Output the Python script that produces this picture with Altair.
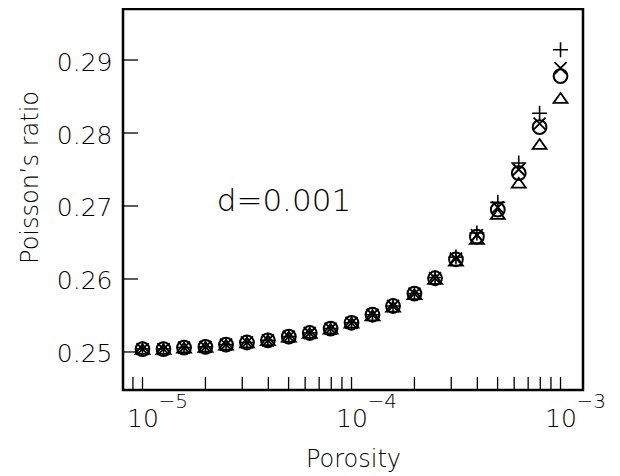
import altair as alt
import pandas as pd

# ---- data ----
porosity = [1.0e-5, 1.26e-5, 1.58e-5, 2.0e-5, 2.51e-5, 3.16e-5, 3.98e-5, 5.01e-5,
            6.31e-5, 7.94e-5, 1.0e-4, 1.26e-4, 1.58e-4, 2.0e-4, 2.51e-4, 3.16e-4,
            3.98e-4, 5.01e-4, 6.31e-4, 7.94e-4, 1.0e-3]
nu_plus = [0.2504, 0.2504, 0.2506, 0.2507, 0.2510, 0.2513, 0.2516, 0.2521, 0.2526,
           0.2532, 0.2540, 0.2551, 0.2563, 0.2580, 0.2602, 0.2630, 0.2663, 0.2705,
           0.2759, 0.2827, 0.2914]
nu_cross = [0.2504, 0.2504, 0.2506, 0.2507, 0.2510, 0.2513, 0.2516, 0.2521, 0.2526,
            0.2532, 0.2540, 0.2551, 0.2563, 0.2580, 0.2601, 0.2628, 0.2660, 0.2698,
            0.2750, 0.2813, 0.2889]
nu_circle = [0.2504, 0.2504, 0.2506, 0.2507, 0.2510, 0.2513, 0.2516, 0.2521, 0.2526,
             0.2532, 0.2540, 0.2551, 0.2563, 0.2580, 0.2601, 0.2627, 0.2658, 0.2695,
             0.2745, 0.2808, 0.2878]
nu_triangle = [0.2504, 0.2504, 0.2506, 0.2507, 0.2510, 0.2513, 0.2516, 0.2521, 0.2526,
               0.2532, 0.2540, 0.2550, 0.2562, 0.2579, 0.2600, 0.2625, 0.2655, 0.2689,
               0.2732, 0.2785, 0.2848]

x_major = [1e-5, 1e-4, 1e-3]
x_exponents = ["\u22125", "\u22124", "\u22123"]
x_ticks = [9e-6, 1e-5, 2e-5, 3e-5, 4e-5, 5e-5, 6e-5, 7e-5, 8e-5, 9e-5,
           1e-4, 2e-4, 3e-4, 4e-4, 5e-4, 6e-4, 7e-4, 8e-4, 9e-4, 1e-3]
y_ticks = [0.25, 0.26, 0.27, 0.28, 0.29]
annotation = "d=0.001"

XMIN, XMAX = 8.066e-6, 1.281e-3
YMIN, YMAX = 0.24479, 0.29699
XTICK_END = 9.52e-6      # inward tick length on the left axis
YTICK_END = 0.24657      # inward tick length on the bottom axis

FONT = "DejaVu Sans"
W = 200  # light weight

xscale = alt.Scale(type="log", domain=[XMIN, XMAX], nice=False)
yscale = alt.Scale(domain=[YMIN, YMAX], nice=False, zero=False)

df = pd.DataFrame({"porosity": porosity, "plus": nu_plus, "cross": nu_cross,
                   "circle": nu_circle, "triangle": nu_triangle})

x_axis = alt.Axis(values=x_major, labelExpr="'10'", ticks=False, tickSize=0,
                  domain=False, grid=False, labelFont=FONT, labelFontSize=25,
                  labelFontWeight=W,
                  labelColor="black", labelPadding=16, labelFlush=False,
                  title="Porosity", titleFont=FONT, titleFontSize=24,
                  titleFontWeight=W, titleColor="black",
                  titleY=76, titleBaseline="alphabetic")
y_axis = alt.Axis(values=y_ticks, format=".2f", ticks=False, tickSize=0,
                  domain=False, grid=False, labelFont=FONT, labelFontSize=25,
                  labelFontWeight=W,
                  labelColor="black", labelPadding=11, labelOffset=2,
                  title="Poisson\u2019s ratio", titleFont=FONT, titleFontSize=24,
                  titleFontWeight=W, titleColor="black", titleAngle=270,
                  titleX=-86, titleY=168, titleAlign="center",
                  titleBaseline="alphabetic")

base = alt.Chart(df)

def series(col, shape, size, sw=1.5):
    return base.mark_point(shape=shape, filled=False, stroke="black",
                           strokeWidth=sw, size=size, opacity=1).encode(
        x=alt.X("porosity:Q", scale=xscale, axis=x_axis),
        y=alt.Y(f"{col}:Q", scale=yscale, axis=y_axis),
    )

circles = series("circle", "circle", 190, 2.0)
pluses = series("plus", "M-1,0L1,0M0,-1L0,1", 225, 1.6)
crosses = series("cross", "M-0.8,-0.8L0.8,0.8M-0.8,0.8L0.8,-0.8", 225, 1.8)
triangles = series("triangle", "M0,-0.7L1,0.7L-1,0.7Z", 196, 1.8)

xt = alt.Chart(pd.DataFrame({"v": x_ticks})).mark_rule(color="black", strokeWidth=1.3).encode(
    x=alt.X("v:Q", scale=xscale, axis=x_axis),
    y=alt.YDatum(YMIN, scale=yscale, axis=y_axis),
    y2=alt.datum(YTICK_END),
)
yt = alt.Chart(pd.DataFrame({"v": y_ticks})).mark_rule(color="black", strokeWidth=1.3).encode(
    y=alt.Y("v:Q", scale=yscale, axis=y_axis),
    x=alt.XDatum(XMIN, scale=xscale, axis=x_axis),
    x2=alt.datum(XTICK_END),
)

sup = alt.Chart(pd.DataFrame({"v": x_major, "t": x_exponents})).mark_text(
    font=FONT, fontSize=20, fontWeight=W, align="left", baseline="top", dx=16, dy=2,
    color="black"
).encode(
    x=alt.X("v:Q", scale=xscale, axis=x_axis),
    y=alt.YDatum(YMIN, scale=yscale, axis=y_axis),
    text="t:N",
)

label = alt.Chart(pd.DataFrame({"x": [4.75e-5], "y": [0.2693], "t": [annotation]})).mark_text(
    font=FONT, fontSize=31, fontWeight=W, align="center", baseline="alphabetic",
    color="black"
).encode(
    x=alt.X("x:Q", scale=xscale, axis=x_axis),
    y=alt.Y("y:Q", scale=yscale, axis=y_axis),
    text="t:N",
)

chart = alt.layer(circles, pluses, crosses, triangles, xt, yt, sup, label).properties(
    width=460, height=381,
    autosize=alt.AutoSizeParams(type="none"),
    padding={"left": 115, "top": 1, "right": 28, "bottom": 86},
    background="white",
).configure_view(stroke="black", strokeWidth=2.5)

chart.save("out.html", embed_options={"renderer": "svg", "actions": False})
